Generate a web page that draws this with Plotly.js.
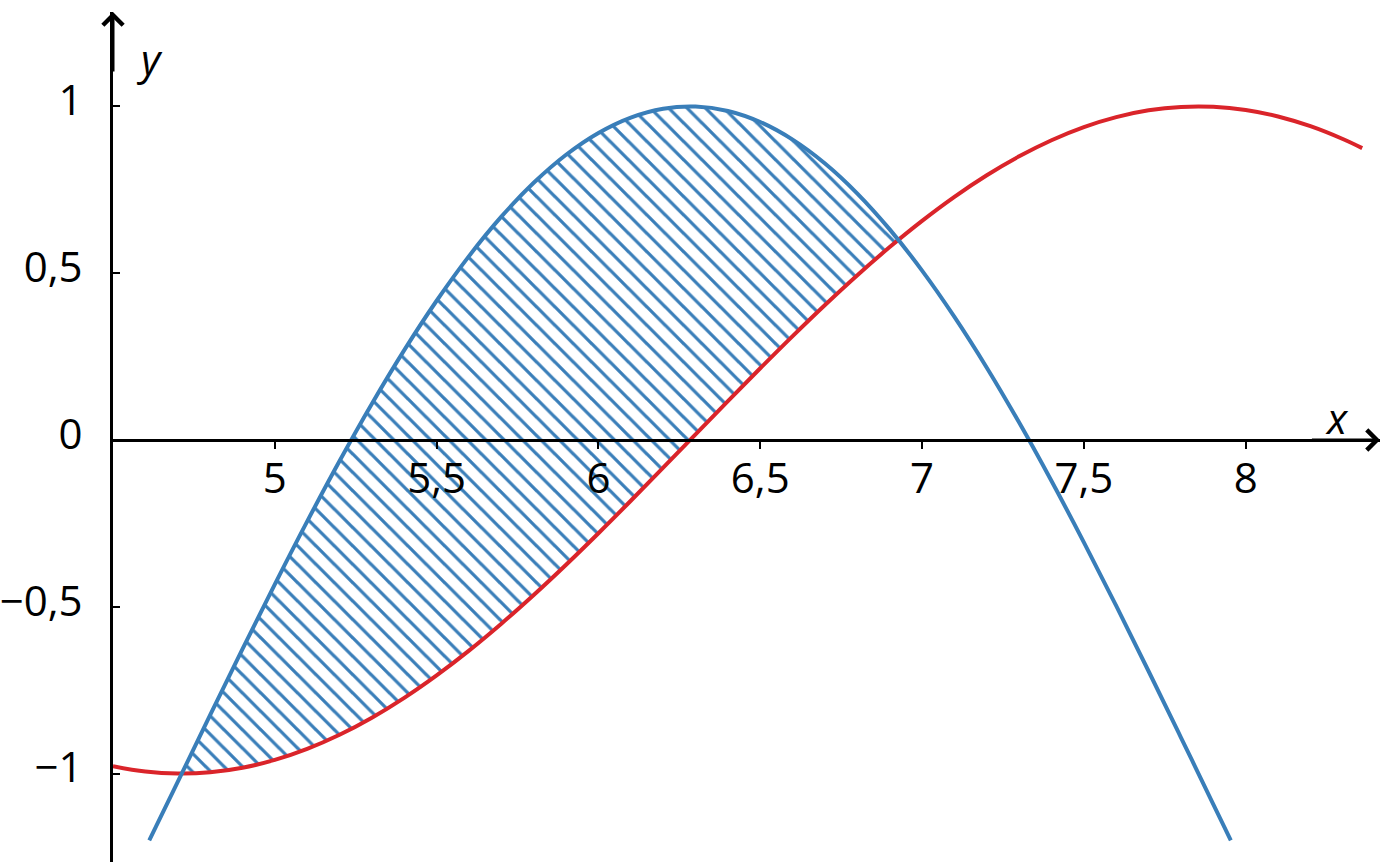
<!DOCTYPE html>
<html><head><meta charset="utf-8">
<script src="https://cdn.plot.ly/plotly-3.0.1.min.js"></script>
<style>html,body{margin:0;padding:0;background:#fff;overflow:hidden;} #chart{width:1382px;height:862px;}</style>
</head><body><div id="chart"></div>
<script>
// red curve (y = sin x)
const redX = [4.5,4.6,4.7,4.8,4.9,5.0,5.1,5.2,5.3,5.4,5.5,5.6,5.7,5.8,5.9,6.0,6.1,6.2,6.3,6.4,6.5,6.6,6.7,6.8,6.9,7.0,7.1,7.2,7.3,7.4,7.5,7.6,7.7,7.8,7.9,8.0,8.1,8.2,8.3,8.36];
const redY = [-0.9775,-0.9937,-0.9999,-0.9962,-0.9825,-0.9589,-0.9258,-0.8835,-0.8323,-0.7728,-0.7055,-0.6313,-0.5507,-0.4646,-0.3739,-0.2794,-0.1822,-0.0831,0.0168,0.1165,0.2151,0.3115,0.4048,0.4941,0.5784,0.6570,0.7290,0.7937,0.8504,0.8987,0.9380,0.9679,0.9882,0.9985,0.9989,0.9894,0.9699,0.9407,0.9022,0.8749];
// blue curve
const blueX = [4.612,4.7,4.8,4.9,5.0,5.1,5.2,5.3,5.4,5.5,5.6,5.7,5.8,5.9,6.0,6.1,6.2,6.3,6.4,6.5,6.6,6.7,6.8,6.9,7.0,7.1,7.2,7.3,7.4,7.5,7.6,7.7,7.8,7.9,7.954];
const blueY = [-1.2,-1.0248,-0.8250,-0.6270,-0.4327,-0.2440,-0.0630,0.1088,0.2694,0.4174,0.5512,0.6694,0.7710,0.8550,0.9204,0.9666,0.9931,0.9997,0.9864,0.9532,0.9004,0.8288,0.7388,0.6314,0.5078,0.3690,0.2168,0.0522,-0.1230,-0.3068,-0.4974,-0.6932,-0.8920,-1.0920,-1.2];
// hatched region between the curves
const areaX = [4.712,4.8,4.9,5.0,5.1,5.2,5.3,5.4,5.5,5.6,5.7,5.8,5.9,6.0,6.1,6.2,6.3,6.4,6.5,6.6,6.7,6.8,6.9,6.927];
const areaLower = [-1.0,-0.9962,-0.9825,-0.9589,-0.9258,-0.8835,-0.8323,-0.7728,-0.7055,-0.6313,-0.5507,-0.4646,-0.3739,-0.2794,-0.1822,-0.0831,0.0168,0.1165,0.2151,0.3115,0.4048,0.4941,0.5784,0.6];
const areaUpper = [-1.0,-0.8250,-0.6270,-0.4327,-0.2440,-0.0630,0.1088,0.2694,0.4174,0.5512,0.6694,0.7710,0.8550,0.9204,0.9666,0.9931,0.9997,0.9864,0.9532,0.9004,0.8288,0.7388,0.6314,0.6];
// ticks
const xTickVals = [5,5.5,6,6.5,7,7.5,8];
const xTickText = ['5','5,5','6','6,5','7','7,5','8'];
const yTickVals = [-1,-0.5,0,0.5,1];
const yTickText = ['\u22121','\u22120,5','0','0,5','1'];
const yTickValsNoZero = [-1,-0.5,0.5,1];

const BLUE = 'rgb(57,126,185)';
const RED = 'rgb(218,36,42)';
const XR = [4.5, 8.415];
const YR = [-1.265, 1.283];
const FONT = {family:'"Open Sans", "Noto Sans", sans-serif', size:42, color:'#000'};

const traces = [
  {x: areaX, y: areaLower, mode:'lines', line:{width:0, shape:'spline', color:RED}, hoverinfo:'skip', showlegend:false},
  {x: areaX, y: areaUpper, mode:'lines', line:{width:0, shape:'spline', color:BLUE}, fill:'tonexty',
   fillcolor:'rgba(0,0,0,0)', fillpattern:{shape:'\\', size:13, solidity:0.25, fgcolor:BLUE, bgcolor:'rgba(0,0,0,0)'},
   hoverinfo:'skip', showlegend:false},
  {x: redX, y: redY, mode:'lines', line:{width:4, shape:'spline', color:RED}, showlegend:false},
  {x: blueX, y: blueY, mode:'lines', line:{width:4, shape:'spline', color:BLUE}, showlegend:false}
];

const yPos0 = (0 - YR[0]) / (YR[1] - YR[0]);

const layout = {
  width:1382, height:862,
  margin:{l:113, r:2, t:12, b:0, pad:0},
  paper_bgcolor:'#fff', plot_bgcolor:'#fff',
  showlegend:false,
  separators:', ',
  font: FONT,
  xaxis:{range:XR, anchor:'free', position:yPos0, side:'bottom', showgrid:false, zeroline:false,
         showline:true, linecolor:'#000', linewidth:3,
         tickmode:'array', tickvals:xTickVals, ticktext:xTickText, ticks:'outside', ticklen:7, tickwidth:2, tickcolor:'#000',
         tickfont:FONT, ticklabelstandoff:-6, fixedrange:true},
  xaxis2:{range:XR, overlaying:'x', anchor:'free', position:yPos0, side:'bottom', showgrid:false, zeroline:false,
         showline:false, tickmode:'array', tickvals:xTickVals, ticks:'inside', ticklen:7, tickwidth:2, tickcolor:'#000',
         showticklabels:false, fixedrange:true},
  yaxis:{range:YR, anchor:'x', side:'left', showgrid:false, zeroline:false,
         showline:true, linecolor:'#000', linewidth:3,
         tickmode:'array', tickvals:yTickVals, ticktext:yTickText, ticks:'inside', ticklen:7, tickwidth:2, tickcolor:'#000',
         tickfont:FONT, ticklabelstandoff:19, ticklabelshift:-6, fixedrange:true},
  yaxis2:{range:YR, overlaying:'y', anchor:'x', side:'left', showgrid:false, zeroline:false, showline:false,
         tickmode:'array', tickvals:yTickValsNoZero, ticks:'outside', ticklen:7, tickwidth:2, tickcolor:'#000',
         showticklabels:false, fixedrange:true},
  annotations:[
    {x:XR[0], y:YR[1], ax:XR[0], ay:1.1, xref:'x', yref:'y', axref:'x', ayref:'y', text:'', showarrow:true,
     arrowhead:4, arrowsize:1.3, arrowwidth:3, arrowcolor:'#000', standoff:0},
    {x:XR[1], y:0, ax:8.2, ay:0, xref:'x', yref:'y', axref:'x', ayref:'y', text:'', showarrow:true,
     arrowhead:4, arrowsize:1.3, arrowwidth:3, arrowcolor:'#000', standoff:0},
    {x:4.614, y:1.145, xref:'x', yref:'y', text:'<i>y</i>', showarrow:false, font:FONT},
    {x:8.282, y:0.066, xref:'x', yref:'y', text:'<i>x</i>', showarrow:false, font:FONT}
  ]
};

Plotly.newPlot('chart', traces, layout, {displayModeBar:false, staticPlot:true});
</script>
</body></html>
